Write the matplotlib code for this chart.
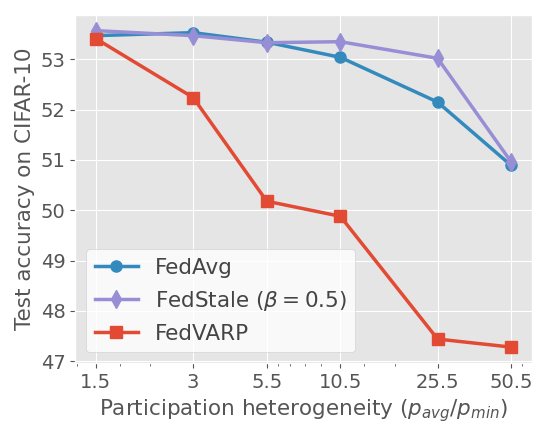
import numpy as np
import matplotlib
matplotlib.use("Agg")
import matplotlib.pyplot as plt

plt.style.use("ggplot")

# participation heterogeneity p_avg/p_min
heterogeneity = [1.5, 3, 5.5, 10.5, 25.5, 50.5]
tick_labels = ["1.5", "3", "5.5", "10.5", "25.5", "50.5"]

fedavg = [53.47, 53.53, 53.34, 53.04, 52.15, 50.89]
fedstale = [53.57, 53.47, 53.33, 53.35, 53.02, 50.96]
fedvarp = [53.41, 52.24, 50.18, 49.88, 47.44, 47.28]

# plotted on an inverted log axis of 1/(ratio-0.5)
xpos = 5.0 / (np.array(heterogeneity) - 0.5)

fig, ax = plt.subplots(figsize=(5.33, 4.23), dpi=100)
fig.subplots_adjust(left=0.141, right=0.998, top=0.965, bottom=0.142)

ax.plot(xpos, fedavg, marker="o", color="#348ABD", lw=2.5, ms=8, label="FedAvg")
ax.plot(xpos, fedstale, marker="d", color="#988ED5", lw=2.5, ms=9, label=r"FedStale ($\beta=0.5$)")
ax.plot(xpos, fedvarp, marker="s", color="#E24A33", lw=2.5, ms=8, label="FedVARP")

ax.set_xscale("log")
ax.invert_xaxis()
ax.set_xticks(xpos)
ax.set_xticklabels(tick_labels)
ax.tick_params(axis="both", labelsize=14)

ax.set_xlabel(r"Participation heterogeneity ($p_{avg}/p_{min}$)", fontsize=15.5)
ax.set_ylabel("Test accuracy on CIFAR-10", fontsize=15.5)

ax.legend(loc="lower left", fontsize=15.5, facecolor="white", framealpha=0.8,
          labelcolor="#444444")

plt.savefig("out.png", dpi=100)
